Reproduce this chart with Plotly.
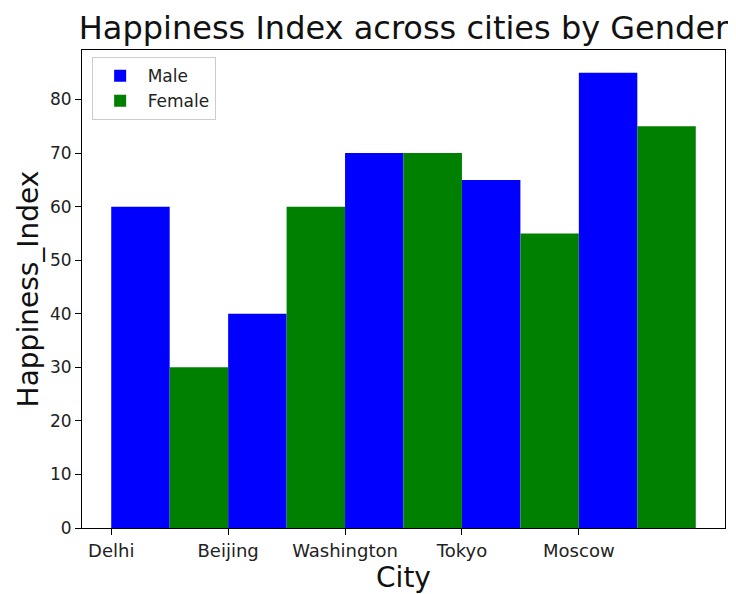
import plotly.graph_objects as go

cities = ["Delhi", "Beijing", "Washington", "Tokyo", "Moscow"]
male = [60, 40, 70, 65, 85]
female = [30, 60, 70, 55, 75]
index = list(range(len(cities)))
yticks = [0, 10, 20, 30, 40, 50, 60, 70, 80]

FONT = "DejaVu Sans"

fig = go.Figure()
fig.add_trace(go.Bar(x=index, y=male, name="Male", width=0.5, offset=0,
                     marker=dict(color="#0000ff", line=dict(width=0))))
fig.add_trace(go.Bar(x=index, y=female, name="Female", width=0.5, offset=0.5,
                     marker=dict(color="#008000", line=dict(width=0))))

fig.update_layout(
    width=728, height=586,
    margin=dict(l=74, r=11, t=42, b=66, autoexpand=False),
    paper_bgcolor="white", plot_bgcolor="white",
    barmode="overlay",
    font=dict(family=FONT, color="#222222", size=18),
    title=dict(text="Happiness Index across cities by Gender", x=0.5, xref="paper",
               xanchor="center", y=0.966, yanchor="middle",
               font=dict(family=FONT, size=32, color="#111111")),
    legend=dict(x=0.015, y=0.985, xanchor="left", yanchor="top",
                bordercolor="#cccccc", borderwidth=1, bgcolor="rgba(255,255,255,0.8)",
                font=dict(size=17, color="#222222"), tracegroupgap=2, itemwidth=45),
    showlegend=True,
)
fig.update_xaxes(range=[-0.25, 5.25], tickvals=index, ticktext=cities, automargin=False,
                 showline=True, linecolor="black", linewidth=1, mirror=True,
                 ticks="outside", ticklen=6, tickcolor="black", showgrid=False,
                 zeroline=False, tickfont=dict(size=18),
                 title=dict(text="City", font=dict(size=28, color="#111111"), standoff=6))
fig.update_yaxes(range=[0, 89.25], tickvals=yticks, automargin=False,
                 showline=True, linecolor="black", linewidth=1, mirror=True,
                 ticks="outside", ticklen=6, tickcolor="black", showgrid=False,
                 zeroline=False, tickfont=dict(size=17),
                 title=dict(text="Happiness_Index", font=dict(size=28, color="#111111"), standoff=3))

fig.write_html("out.html")
